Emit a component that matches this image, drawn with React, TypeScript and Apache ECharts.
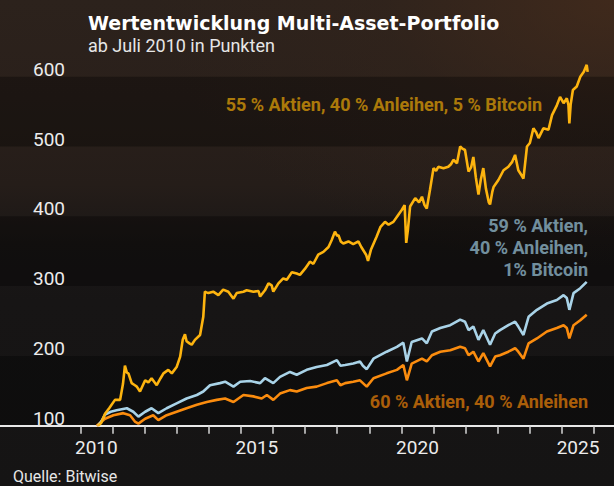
import { useEffect, useRef } from "react";
import * as echarts from "echarts";

const TITLE = "Wertentwicklung Multi-Asset-Portfolio";
const SUBTITLE = "ab Juli 2010 in Punkten";
const SOURCE = "Quelle: Bitwise";

const LABEL_BTC5 = "55 % Aktien, 40 % Anleihen, 5 % Bitcoin";
const LABEL_BTC1 = ["59 % Aktien,", "40 % Anleihen,", "1% Bitcoin"];
const LABEL_6040 = "60 % Aktien, 40 % Anleihen";

const Y_MIN = 100;
const Y_MAX = 600;
const Y_STEP = 100;
const X_MIN = 2007.5;
const X_MAX = 2026.62;
const YEAR_TICKS = [2010, 2011, 2012, 2013, 2014, 2015, 2016, 2017, 2018, 2019, 2020, 2021, 2022, 2023, 2024, 2025, 2026];
const YEAR_LABELS = [2010.5, 2015.5, 2020.5, 2025.5];

// 55 % Aktien, 40 % Anleihen, 5 % Bitcoin
const btc5Years = [
  2010.55, 2010.65, 2010.77, 2010.9, 2011.08, 2011.24, 2011.33, 2011.39, 2011.45, 2011.5, 2011.6, 2011.7, 2011.76,
  2011.86, 2012.02, 2012.12, 2012.22, 2012.38, 2012.5, 2012.59, 2012.74, 2012.85, 2013.0, 2013.11, 2013.19, 2013.26,
  2013.31, 2013.4, 2013.47, 2013.57, 2013.73, 2013.83, 2013.88, 2013.93, 2013.99, 2014.14, 2014.3, 2014.45, 2014.61,
  2014.77, 2014.87, 2015.08, 2015.18, 2015.39, 2015.55, 2015.6, 2015.75, 2015.86, 2015.96, 2016.01, 2016.17, 2016.32,
  2016.43, 2016.59, 2016.74, 2016.84, 2017.0, 2017.15, 2017.26, 2017.41, 2017.57, 2017.73, 2017.83, 2017.93, 2018.0,
  2018.04, 2018.11, 2018.19, 2018.35, 2018.5, 2018.66, 2018.75, 2018.9, 2018.96, 2019.05, 2019.23, 2019.35, 2019.49,
  2019.6, 2019.75, 2019.9, 2020.01, 2020.1, 2020.15, 2020.2, 2020.27, 2020.43, 2020.55, 2020.64, 2020.72, 2020.79,
  2020.89, 2021.0, 2021.08, 2021.15, 2021.31, 2021.46, 2021.55, 2021.62, 2021.73, 2021.83, 2021.9, 2021.98, 2022.09,
  2022.17, 2022.24, 2022.32, 2022.4, 2022.47, 2022.55, 2022.63, 2022.72, 2022.76, 2022.83, 2022.87, 2023.02, 2023.18,
  2023.33, 2023.45, 2023.54, 2023.64, 2023.75, 2023.8, 2023.91, 2024.0, 2024.11, 2024.2, 2024.27, 2024.42, 2024.58,
  2024.69, 2024.84, 2024.94, 2025.05, 2025.15, 2025.2, 2025.23, 2025.27, 2025.34, 2025.46, 2025.57, 2025.68, 2025.77,
  2025.8,
];
const btc5Values = [
  100, 104, 117, 125, 137, 137, 160, 186, 176, 175, 161, 158, 156,
  149, 165, 162, 168, 158, 168, 175, 180, 175, 184, 199, 223, 231,
  221, 218, 216, 223, 230, 256, 292, 291, 290, 292, 287, 295, 292,
  282, 290, 292, 294, 292, 293, 285, 294, 304, 301, 292, 304, 311,
  309, 320, 318, 316, 325, 335, 332, 345, 349, 356, 366, 378, 372,
  373, 364, 361, 364, 360, 364, 356, 345, 336, 352, 371, 385, 392,
  388, 392, 402, 409, 416, 362, 380, 414, 426, 420, 428, 416, 411,
  438, 469, 465, 471, 469, 471, 475, 481, 476, 500, 497, 495, 464,
  470, 485, 455, 431, 452, 469, 440, 420, 417, 435, 442, 452, 466,
  471, 478, 488, 466, 458, 454, 500, 505, 526, 520, 512, 526, 524,
  545, 559, 571, 562, 569, 560, 533, 560, 581, 586, 600, 607, 617,
  607,
];

// 59 % Aktien, 40 % Anleihen, 1 % Bitcoin
const btc1Years = [
  2010.55, 2010.65, 2010.77, 2010.95, 2011.13, 2011.45, 2011.65, 2011.81, 2012.02, 2012.22, 2012.43, 2012.69, 2013.0,
  2013.31, 2013.63, 2013.83, 2014.04, 2014.35, 2014.51, 2014.77, 2014.98, 2015.29, 2015.6, 2015.75, 2016.01, 2016.22,
  2016.53, 2016.74, 2017.05, 2017.36, 2017.68, 2017.99, 2018.1, 2018.25, 2018.5, 2018.71, 2018.8, 2018.92, 2019.13,
  2019.54, 2019.86, 2020.06, 2020.17, 2020.32, 2020.64, 2020.79, 2020.95, 2021.21, 2021.52, 2021.83, 2021.98, 2022.09,
  2022.24, 2022.4, 2022.55, 2022.76, 2022.92, 2023.07, 2023.33, 2023.54, 2023.64, 2023.8, 2023.96, 2024.22, 2024.53,
  2024.84, 2025.05, 2025.15, 2025.23, 2025.36, 2025.57, 2025.77,
];
const btc1Values = [
  100, 106, 116, 120, 122, 125, 120, 113, 120, 125, 118, 125, 132,
  139, 144, 149, 158, 161, 163, 156, 163, 164, 161, 168, 161, 170,
  177, 173, 180, 184, 187, 194, 186, 187, 189, 192, 186, 181, 196,
  206, 213, 219, 192, 220, 225, 218, 235, 240, 244, 252, 249, 237,
  242, 223, 237, 216, 232, 237, 244, 249, 242, 230, 256, 266, 275,
  280, 287, 283, 266, 290, 297, 306,
];

// 60 % Aktien, 40 % Anleihen
const s6040Years = [
  2010.51, 2010.77, 2011.03, 2011.34, 2011.55, 2011.7, 2011.81, 2012.02, 2012.27, 2012.43, 2012.69, 2013.0, 2013.31,
  2013.63, 2013.94, 2014.25, 2014.51, 2014.77, 2015.08, 2015.39, 2015.65, 2015.81, 2016.01, 2016.22, 2016.53, 2016.74,
  2017.05, 2017.36, 2017.68, 2017.99, 2018.1, 2018.25, 2018.5, 2018.71, 2018.92, 2019.13, 2019.54, 2019.86, 2020.06,
  2020.17, 2020.32, 2020.64, 2020.79, 2020.95, 2021.21, 2021.52, 2021.83, 2021.98, 2022.09, 2022.24, 2022.4, 2022.55,
  2022.76, 2022.92, 2023.07, 2023.33, 2023.54, 2023.64, 2023.8, 2023.96, 2024.22, 2024.53, 2024.84, 2025.05, 2025.15,
  2025.23, 2025.36, 2025.57, 2025.77,
];
const s6040Values = [
  100, 110, 115, 118, 115, 106, 103, 110, 115, 108, 115, 120, 125,
  130, 134, 137, 139, 134, 144, 142, 139, 144, 137, 146, 151, 149,
  154, 156, 161, 165, 158, 161, 163, 165, 156, 168, 175, 180, 187,
  165, 189, 196, 192, 201, 206, 208, 213, 211, 201, 206, 192, 204,
  185, 199, 201, 206, 211, 206, 196, 218, 225, 235, 240, 244, 240,
  225, 244, 251, 259,
];

const C_BTC5 = "#fdb40f";
const C_BTC1 = "#a9d3e8";
const C_6040 = "#fb8c0e";

const pairs = (xs: number[], ys: number[]) => xs.map((x, i) => [x, ys[i]]);

export default function App() {
  const ref = useRef<HTMLDivElement>(null);
  useEffect(() => {
    const chart = echarts.init(ref.current!, null, { renderer: "svg" });
    chart.setOption({
      animation: false,
      backgroundColor: "transparent",
      grid: { left: 0, right: 0, top: 76.7, bottom: 60.3, containLabel: false },
      xAxis: {
        type: "value",
        min: X_MIN,
        max: X_MAX,
        axisLine: { show: true, onZero: false, lineStyle: { color: "#e8e8e8", width: 2 } },
        axisTick: {
          show: true,
          customValues: YEAR_TICKS,
          length: 8,
          lineStyle: { color: "#d6d6d6", width: 1.5 },
        },
        axisLabel: {
          customValues: YEAR_LABELS,
          formatter: (v: number) => String(Math.floor(v)),
          color: "#ececec",
          fontFamily: "Roboto",
          fontSize: 19,
          margin: 12,
          lineHeight: 20,
        },
        splitLine: { show: false },
      },
      yAxis: {
        type: "value",
        min: Y_MIN,
        max: Y_MAX,
        interval: Y_STEP,
        axisLine: { show: false },
        axisTick: { show: false },
        splitLine: { show: false },
        splitArea: {
          show: true,
          areaStyle: { color: ["rgba(0,0,0,0.32)", "rgba(0,0,0,0)"] },
        },
        axisLabel: {
          inside: true,
          margin: 65,
          align: "right",
          verticalAlign: "bottom",
          lineHeight: 15,
          color: "#ececec",
          fontFamily: "Roboto",
          fontSize: 19,
        },
      },
      series: [
        {
          type: "line",
          data: pairs(s6040Years, s6040Values),
          showSymbol: false,
          clip: false,
          lineStyle: { color: C_6040, width: 2.6 },
          z: 2,
        },
        {
          type: "line",
          data: pairs(btc1Years, btc1Values),
          showSymbol: false,
          clip: false,
          lineStyle: { color: C_BTC1, width: 2.6 },
          z: 3,
        },
        {
          type: "line",
          data: pairs(btc5Years, btc5Values),
          showSymbol: false,
          clip: false,
          lineStyle: { color: C_BTC5, width: 2.6 },
          z: 4,
        },
      ],
      graphic: [
        {
          type: "text",
          x: 88,
          y: 22.5,
          style: { text: TITLE, fill: "#ffffff", font: "bold 19px 'DejaVu Sans'", verticalAlign: "middle" },
        },
        {
          type: "text",
          left: 88,
          top: 36,
          style: { text: SUBTITLE, fill: "#e6e6e6", font: "18px Roboto" },
        },
        {
          type: "text",
          x: 542,
          y: 104,
          style: { text: LABEL_BTC5, fill: C_BTC5, font: "bold 18px Roboto", align: "right", verticalAlign: "middle" },
        },
        ...LABEL_BTC1.map((t, i) => ({
          type: "text",
          x: 588,
          y: 225 + i * 22.2,
          style: { text: t, fill: C_BTC1, font: "bold 18px Roboto", align: "right", verticalAlign: "middle" },
        })),
        {
          type: "text",
          x: 588,
          y: 401.5,
          style: { text: LABEL_6040, fill: C_6040, font: "bold 18px Roboto", align: "right", verticalAlign: "middle" },
        },
        {
          type: "text",
          x: 13,
          y: 476.5,
          style: { text: SOURCE, fill: "#e6e6e6", font: "16px Roboto", align: "left", verticalAlign: "middle" },
        },
      ],
    });
    return () => chart.dispose();
  }, []);
  return (
    <div
      style={{
        position: "fixed",
        left: 0,
        top: 0,
        width: 614,
        height: 486,
        overflow: "hidden",
        background:
          "radial-gradient(ellipse 75% 55% at 100% 0%, rgba(70,44,28,0.75) 0%, rgba(55,38,28,0.35) 50%, rgba(0,0,0,0) 100%), linear-gradient(180deg, #2c221c 0%, #2a201b 20%, #251d19 38%, #1a1716 50%, #171515 62%, #151414 100%)",
      }}
    >
      <div ref={ref} style={{ width: 614, height: 486 }} />
    </div>
  );
}
